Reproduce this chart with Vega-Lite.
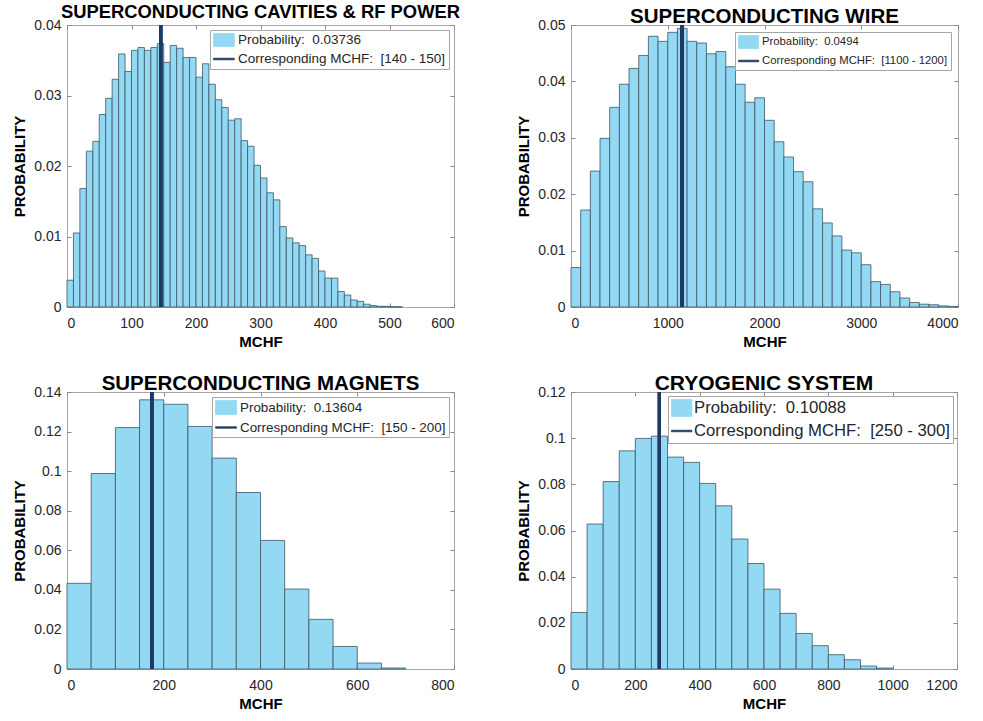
{
  "$schema": "https://vega.github.io/schema/vega-lite/v6.json",
  "padding": {"left": 12, "top": 2, "right": 5, "bottom": 5},
  "background": "white",
  "datasets": {
    "p1": [
      {"a": 0, "b": 10, "p": 0.0038}, {"a": 10, "b": 20, "p": 0.0105}, {"a": 20, "b": 30, "p": 0.0168}, {"a": 30, "b": 40, "p": 0.0221},
      {"a": 40, "b": 50, "p": 0.0235}, {"a": 50, "b": 60, "p": 0.0273}, {"a": 60, "b": 70, "p": 0.0296}, {"a": 70, "b": 80, "p": 0.0323},
      {"a": 80, "b": 90, "p": 0.0359}, {"a": 90, "b": 100, "p": 0.0334}, {"a": 100, "b": 110, "p": 0.0364}, {"a": 110, "b": 120, "p": 0.0368},
      {"a": 120, "b": 130, "p": 0.0364}, {"a": 130, "b": 140, "p": 0.0368}, {"a": 140, "b": 150, "p": 0.03736}, {"a": 150, "b": 160, "p": 0.0347},
      {"a": 160, "b": 170, "p": 0.0371}, {"a": 170, "b": 180, "p": 0.0367}, {"a": 180, "b": 190, "p": 0.0354}, {"a": 190, "b": 200, "p": 0.0354},
      {"a": 200, "b": 210, "p": 0.0326}, {"a": 210, "b": 220, "p": 0.0345}, {"a": 220, "b": 230, "p": 0.0316}, {"a": 230, "b": 240, "p": 0.0294},
      {"a": 240, "b": 250, "p": 0.0283}, {"a": 250, "b": 260, "p": 0.0265}, {"a": 260, "b": 270, "p": 0.0267}, {"a": 270, "b": 280, "p": 0.0236},
      {"a": 280, "b": 290, "p": 0.0228}, {"a": 290, "b": 300, "p": 0.0201}, {"a": 300, "b": 310, "p": 0.0183}, {"a": 310, "b": 320, "p": 0.0162},
      {"a": 320, "b": 330, "p": 0.0152}, {"a": 330, "b": 340, "p": 0.0114}, {"a": 340, "b": 350, "p": 0.0098}, {"a": 350, "b": 360, "p": 0.0091},
      {"a": 360, "b": 370, "p": 0.0087}, {"a": 370, "b": 380, "p": 0.0074}, {"a": 380, "b": 390, "p": 0.0069}, {"a": 390, "b": 400, "p": 0.0051},
      {"a": 400, "b": 410, "p": 0.0041}, {"a": 410, "b": 420, "p": 0.0041}, {"a": 420, "b": 430, "p": 0.0022}, {"a": 430, "b": 440, "p": 0.0017},
      {"a": 440, "b": 450, "p": 0.0010}, {"a": 450, "b": 460, "p": 0.0008}, {"a": 460, "b": 470, "p": 0.0004}, {"a": 470, "b": 480, "p": 0.0002},
      {"a": 480, "b": 490, "p": 0.0001}, {"a": 490, "b": 500, "p": 0.0001}, {"a": 500, "b": 510, "p": 0.00005}, {"a": 510, "b": 520, "p": 0.00003}
    ],
    "p2": [
      {"a": 0, "b": 100, "p": 0.0070}, {"a": 100, "b": 200, "p": 0.0172}, {"a": 200, "b": 300, "p": 0.0241}, {"a": 300, "b": 400, "p": 0.0299},
      {"a": 400, "b": 500, "p": 0.0354}, {"a": 500, "b": 600, "p": 0.0395}, {"a": 600, "b": 700, "p": 0.0423}, {"a": 700, "b": 800, "p": 0.0446},
      {"a": 800, "b": 900, "p": 0.0480}, {"a": 900, "b": 1000, "p": 0.0471}, {"a": 1000, "b": 1100, "p": 0.0487}, {"a": 1100, "b": 1200, "p": 0.0494},
      {"a": 1200, "b": 1300, "p": 0.0471}, {"a": 1300, "b": 1400, "p": 0.0468}, {"a": 1400, "b": 1500, "p": 0.0449}, {"a": 1500, "b": 1600, "p": 0.0453},
      {"a": 1600, "b": 1700, "p": 0.0426}, {"a": 1700, "b": 1800, "p": 0.0395}, {"a": 1800, "b": 1900, "p": 0.0363}, {"a": 1900, "b": 2000, "p": 0.0371},
      {"a": 2000, "b": 2100, "p": 0.0331}, {"a": 2100, "b": 2200, "p": 0.0293}, {"a": 2200, "b": 2300, "p": 0.0266}, {"a": 2300, "b": 2400, "p": 0.0240},
      {"a": 2400, "b": 2500, "p": 0.0222}, {"a": 2500, "b": 2600, "p": 0.0174}, {"a": 2600, "b": 2700, "p": 0.0149}, {"a": 2700, "b": 2800, "p": 0.0126},
      {"a": 2800, "b": 2900, "p": 0.0101}, {"a": 2900, "b": 3000, "p": 0.0096}, {"a": 3000, "b": 3100, "p": 0.0075}, {"a": 3100, "b": 3200, "p": 0.0045},
      {"a": 3200, "b": 3300, "p": 0.0040}, {"a": 3300, "b": 3400, "p": 0.0027}, {"a": 3400, "b": 3500, "p": 0.0016}, {"a": 3500, "b": 3600, "p": 0.0008},
      {"a": 3600, "b": 3700, "p": 0.0005}, {"a": 3700, "b": 3800, "p": 0.0004}, {"a": 3800, "b": 3900, "p": 0.0002}, {"a": 3900, "b": 4000, "p": 0.0001}
    ],
    "p3": [
      {"a": 0, "b": 50, "p": 0.0433}, {"a": 50, "b": 100, "p": 0.0988}, {"a": 100, "b": 150, "p": 0.1220}, {"a": 150, "b": 200, "p": 0.13604},
      {"a": 200, "b": 250, "p": 0.1338}, {"a": 250, "b": 300, "p": 0.1226}, {"a": 300, "b": 350, "p": 0.1066}, {"a": 350, "b": 400, "p": 0.0892},
      {"a": 400, "b": 450, "p": 0.0650}, {"a": 450, "b": 500, "p": 0.0404}, {"a": 500, "b": 550, "p": 0.0251}, {"a": 550, "b": 600, "p": 0.0114},
      {"a": 600, "b": 650, "p": 0.0030}, {"a": 650, "b": 700, "p": 0.0005}
    ],
    "p4": [
      {"a": 0, "b": 50, "p": 0.0245}, {"a": 50, "b": 100, "p": 0.0628}, {"a": 100, "b": 150, "p": 0.0812}, {"a": 150, "b": 200, "p": 0.0945},
      {"a": 200, "b": 250, "p": 0.0999}, {"a": 250, "b": 300, "p": 0.10088}, {"a": 300, "b": 350, "p": 0.0918}, {"a": 350, "b": 400, "p": 0.0895},
      {"a": 400, "b": 450, "p": 0.0804}, {"a": 450, "b": 500, "p": 0.0707}, {"a": 500, "b": 550, "p": 0.0563}, {"a": 550, "b": 600, "p": 0.0457},
      {"a": 600, "b": 650, "p": 0.0346}, {"a": 650, "b": 700, "p": 0.0241}, {"a": 700, "b": 750, "p": 0.0154}, {"a": 750, "b": 800, "p": 0.0101},
      {"a": 800, "b": 850, "p": 0.0062}, {"a": 850, "b": 900, "p": 0.0040}, {"a": 900, "b": 950, "p": 0.0013}, {"a": 950, "b": 1000, "p": 0.0004}
    ]
  },
  "spacing": 22,
  "resolve": {"scale": {"color": "independent"}, "legend": {"color": "independent"}},
  "vconcat": [
    {
      "spacing": 55,
      "resolve": {"scale": {"color": "independent"}, "legend": {"color": "independent"}},
      "hconcat": [
        {
          "title": {"text": "SUPERCONDUCTING CAVITIES & RF POWER", "fontSize": 18.4},
          "width": 387, "height": 282,
          "data": {"name": "p1"},
          "resolve": {"axis": {"x": "independent", "y": "independent"}},
          "layer": [
            {
              "mark": {"type": "bar", "stroke": "#3e5563", "strokeWidth": 0.8, "opacity": 1},
              "encoding": {
                "x": {"field": "a", "type": "quantitative", "scale": {"domain": [0, 600], "nice": false}, "axis": {"title": "MCHF", "values": [0, 100, 200, 300, 400, 500, 600]}},
                "x2": {"field": "b"},
                "y": {"field": "p", "type": "quantitative", "scale": {"domain": [0, 0.04], "nice": false}, "axis": {"title": "PROBABILITY", "values": [0, 0.01, 0.02, 0.03, 0.04], "format": ".2~f"}},
                "y2": {"datum": 0},
                "color": {"datum": "Probability:\u00a0 0.03736", "type": "nominal",
                  "scale": {"domain": ["Probability:\u00a0 0.03736", "Corresponding MCHF:\u00a0 [140 - 150]"], "range": ["#94d9f4", "#1f3864"]},
                  "legend": {"orient": "top-right", "offset": 5, "title": null, "labelFontSize": 13.5, "symbolSize": 169, "labelOffset": 11,
                    "symbolType": {"expr": "slice(datum.value,0,4)==='Prob' ? 'M-1,-1H2.2V1H-1Z' : 'M-1,-0.12H2.2V0.12H-1Z'"},
                    "symbolStrokeColor": {"expr": "slice(datum.value,0,4)==='Prob' ? '#3e5563' : '#1f3864'"}}
                }
              }
            },
            {
              "mark": {"type": "rule", "strokeWidth": 3},
              "encoding": {
                "x": {"datum": 145, "type": "quantitative", "axis": {"orient": "top", "labels": false, "title": null, "values": [0, 100, 200, 300, 400, 500, 600]}},
                "y": {"datum": 0, "type": "quantitative", "axis": {"orient": "right", "labels": false, "title": null, "values": [0, 0.01, 0.02, 0.03, 0.04]}},
                "y2": {"datum": 0.04},
                "color": {"datum": "Corresponding MCHF:\u00a0 [140 - 150]", "type": "nominal"}
              }
            }
          ]
        },
        {
          "title": {"text": "SUPERCONDUCTING WIRE", "fontSize": 20.5, "offset": -9},
          "width": 387, "height": 282,
          "data": {"name": "p2"},
          "resolve": {"axis": {"x": "independent", "y": "independent"}},
          "layer": [
            {
              "mark": {"type": "bar", "stroke": "#3e5563", "strokeWidth": 0.8, "opacity": 1},
              "encoding": {
                "x": {"field": "a", "type": "quantitative", "scale": {"domain": [0, 4000], "nice": false}, "axis": {"title": "MCHF", "values": [0, 1000, 2000, 3000, 4000], "format": "d"}},
                "x2": {"field": "b"},
                "y": {"field": "p", "type": "quantitative", "scale": {"domain": [0, 0.05], "nice": false}, "axis": {"title": "PROBABILITY", "values": [0, 0.01, 0.02, 0.03, 0.04, 0.05], "format": ".2~f"}},
                "y2": {"datum": 0},
                "color": {"datum": "Probability:\u00a0 0.0494", "type": "nominal",
                  "scale": {"domain": ["Probability:\u00a0 0.0494", "Corresponding MCHF:\u00a0 [1100 - 1200]"], "range": ["#94d9f4", "#1f3864"]},
                  "legend": {"orient": "top-right", "offset": 7, "title": null, "labelFontSize": 11.3, "symbolSize": 169, "labelOffset": 10,
                    "symbolType": {"expr": "slice(datum.value,0,4)==='Prob' ? 'M-1,-1H2.1V1H-1Z' : 'M-1,-0.12H2.1V0.12H-1Z'"},
                    "symbolStrokeColor": {"expr": "slice(datum.value,0,4)==='Prob' ? '#3e5563' : '#1f3864'"}}
                }
              }
            },
            {
              "mark": {"type": "rule", "strokeWidth": 3},
              "encoding": {
                "x": {"datum": 1150, "type": "quantitative", "axis": {"orient": "top", "labels": false, "title": null, "values": [0, 1000, 2000, 3000, 4000]}},
                "y": {"datum": 0, "type": "quantitative", "axis": {"orient": "right", "labels": false, "title": null, "values": [0, 0.01, 0.02, 0.03, 0.04, 0.05]}},
                "y2": {"datum": 0.05},
                "color": {"datum": "Corresponding MCHF:\u00a0 [1100 - 1200]", "type": "nominal"}
              }
            }
          ]
        }
      ]
    },
    {
      "spacing": 61,
      "resolve": {"scale": {"color": "independent"}, "legend": {"color": "independent"}},
      "hconcat": [
        {
          "title": {"text": "SUPERCONDUCTING MAGNETS", "fontSize": 20.5, "offset": -9},
          "width": 387, "height": 277,
          "data": {"name": "p3"},
          "resolve": {"axis": {"x": "independent", "y": "independent"}},
          "layer": [
            {
              "mark": {"type": "bar", "stroke": "#3e5563", "strokeWidth": 0.8, "opacity": 1},
              "encoding": {
                "x": {"field": "a", "type": "quantitative", "scale": {"domain": [0, 800], "nice": false}, "axis": {"title": "MCHF", "values": [0, 200, 400, 600, 800]}},
                "x2": {"field": "b"},
                "y": {"field": "p", "type": "quantitative", "scale": {"domain": [0, 0.14], "nice": false}, "axis": {"title": "PROBABILITY", "values": [0, 0.02, 0.04, 0.06, 0.08, 0.1, 0.12, 0.14], "format": ".2~f"}},
                "y2": {"datum": 0},
                "color": {"datum": "Probability:\u00a0 0.13604", "type": "nominal",
                  "scale": {"domain": ["Probability:\u00a0 0.13604", "Corresponding MCHF:\u00a0 [150 - 200]"], "range": ["#94d9f4", "#1f3864"]},
                  "legend": {"orient": "top-right", "offset": 5, "title": null, "labelFontSize": 13.4, "symbolSize": 196, "labelOffset": 10,
                    "symbolType": {"expr": "slice(datum.value,0,4)==='Prob' ? 'M-1,-1H2V1H-1Z' : 'M-1,-0.1H2V0.1H-1Z'"},
                    "symbolStrokeColor": {"expr": "slice(datum.value,0,4)==='Prob' ? '#3e5563' : '#1f3864'"}}
                }
              }
            },
            {
              "mark": {"type": "rule", "strokeWidth": 3},
              "encoding": {
                "x": {"datum": 175, "type": "quantitative", "axis": {"orient": "top", "labels": false, "title": null, "values": [0, 200, 400, 600, 800]}},
                "y": {"datum": 0, "type": "quantitative", "axis": {"orient": "right", "labels": false, "title": null, "values": [0, 0.02, 0.04, 0.06, 0.08, 0.1, 0.12, 0.14]}},
                "y2": {"datum": 0.14},
                "color": {"datum": "Corresponding MCHF:\u00a0 [150 - 200]", "type": "nominal"}
              }
            }
          ]
        },
        {
          "title": {"text": "CRYOGENIC SYSTEM", "fontSize": 21, "offset": -9},
          "width": 386, "height": 277,
          "data": {"name": "p4"},
          "resolve": {"axis": {"x": "independent", "y": "independent"}},
          "layer": [
            {
              "mark": {"type": "bar", "stroke": "#3e5563", "strokeWidth": 0.8, "opacity": 1},
              "encoding": {
                "x": {"field": "a", "type": "quantitative", "scale": {"domain": [0, 1200], "nice": false}, "axis": {"title": "MCHF", "values": [0, 200, 400, 600, 800, 1000, 1200], "format": "d"}},
                "x2": {"field": "b"},
                "y": {"field": "p", "type": "quantitative", "scale": {"domain": [0, 0.12], "nice": false}, "axis": {"title": "PROBABILITY", "values": [0, 0.02, 0.04, 0.06, 0.08, 0.1, 0.12], "format": ".2~f"}},
                "y2": {"datum": 0},
                "color": {"datum": "Probability:\u00a0 0.10088", "type": "nominal",
                  "scale": {"domain": ["Probability:\u00a0 0.10088", "Corresponding MCHF:\u00a0 [250 - 300]"], "range": ["#94d9f4", "#1f3864"]},
                  "legend": {"orient": "top-right", "offset": 4, "title": null, "labelFontSize": 16.7, "symbolSize": 289, "labelOffset": 5,
                    "symbolType": {"expr": "slice(datum.value,0,4)==='Prob' ? 'M-1,-1H1.4V1H-1Z' : 'M-1,-0.09H1.4V0.09H-1Z'"},
                    "symbolStrokeColor": {"expr": "slice(datum.value,0,4)==='Prob' ? '#3e5563' : '#1f3864'"}}
                }
              }
            },
            {
              "mark": {"type": "rule", "strokeWidth": 3},
              "encoding": {
                "x": {"datum": 275, "type": "quantitative", "axis": {"orient": "top", "labels": false, "title": null, "values": [0, 200, 400, 600, 800, 1000, 1200]}},
                "y": {"datum": 0, "type": "quantitative", "axis": {"orient": "right", "labels": false, "title": null, "values": [0, 0.02, 0.04, 0.06, 0.08, 0.1, 0.12]}},
                "y2": {"datum": 0.12},
                "color": {"datum": "Corresponding MCHF:\u00a0 [250 - 300]", "type": "nominal"}
              }
            }
          ]
        }
      ]
    }
  ],
  "config": {
    "font": "Liberation Sans",
    "view": {"stroke": "#a6a6a6", "strokeWidth": 1},
    "title": {"font": "Liberation Sans", "fontSize": 17, "fontWeight": "bold", "color": "#000000", "anchor": "middle", "offset": -3},
    "axis": {
      "grid": false, "domain": false,
      "labelFont": "Liberation Sans", "labelFontSize": 14, "labelColor": "#262626",
      "titleFont": "Liberation Sans", "titleFontSize": 15, "titleFontWeight": "bold", "titleColor": "#000000",
      "tickColor": "#8a8a8a", "tickSize": -4, "tickWidth": 1
    },
    "axisX": {"titlePadding": 4, "labelPadding": 13},
    "axisY": {"titlePadding": 6, "labelPadding": 10},
    "legend": {
      "labelFont": "Liberation Sans", "labelColor": "#262626", "labelLimit": 0,
      "strokeColor": "#a6a6a6", "fillColor": "#ffffff", "padding": 3, "rowPadding": 3, "symbolStrokeWidth": 0.8
    }
  }
}
